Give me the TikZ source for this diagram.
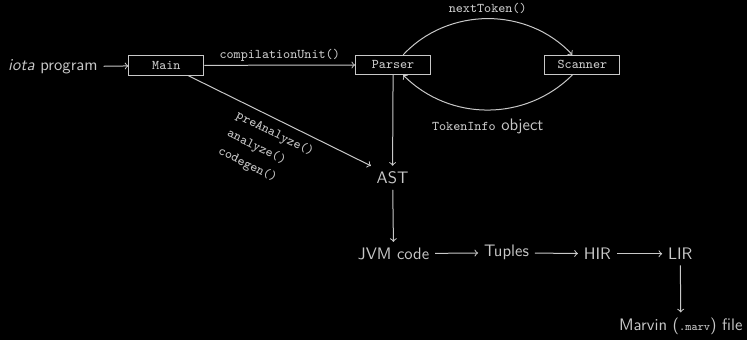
\documentclass[tikz,border=0pt]{standalone}
\usetikzlibrary{arrows}
\renewcommand{\familydefault}{\sfdefault}
\definecolor{fg}{RGB}{200,200,200}
\begin{document}
\begin{tikzpicture}[x=0.6pt,y=0.6pt,
  every node/.style={text=fg, font=\sffamily},
  box/.style={draw=fg, line width=0.6pt, minimum width=45pt, minimum height=11.5pt, inner sep=1pt, font=\ttfamily\footnotesize},
  conn/.style={draw=fg, line width=0.6pt, ->, >=to},
  lbl/.style={font=\ttfamily\footnotesize, inner sep=1pt}]
\fill[black] (0,0) rectangle (748,-340);
\node (iota) at (53,-67) {\textit{iota} program};
\node[box] (Main) at (166.5,-65.5) {Main};
\node[box] (Parser) at (393.5,-65) {Parser};
\node[box] (Scanner) at (583,-65) {Scanner};
\node (AST) at (393,-178) {AST};
\node (JVM) at (394,-254) {JVM code};
\node (Tup) at (507,-253) {Tuples};
\node (HIR) at (598,-254) {HIR};
\node (LIR) at (681,-254) {LIR};
\node (Marv) at (681.5,-327) {Marvin (\texttt{\scriptsize .marv}) file};

\draw[conn] (iota) -- (Main);
\draw[conn] (Main) -- node[lbl, above=1pt] (cu) {compilationUnit()} (Parser);
\draw[conn] (Parser.45) to[bend left=47] node[lbl, above=2pt] (nt) {nextToken()} (Scanner.135);
\draw[conn] (Scanner.-135) to[bend left=45] node[below=2pt] (ti) {\texttt{\footnotesize TokenInfo} object} (Parser.-45);
\draw[conn] (Parser.south) -- (AST.north);
\draw[conn] (Main.-25) -- (AST.north west);
\node[lbl, anchor=west, rotate=-26.6, inner sep=0pt, align=left] (meth) at (228,-133) {preAnalyze()\\[2.5pt]analyze()\\[2.5pt]codegen()};
\draw[conn] (AST) -- (JVM);
\draw[conn] (JVM) -- (Tup);
\draw[conn] (Tup) -- (HIR);
\draw[conn] (HIR) -- (LIR);
\draw[conn] (LIR) -- (Marv);
\end{tikzpicture}
\end{document}
